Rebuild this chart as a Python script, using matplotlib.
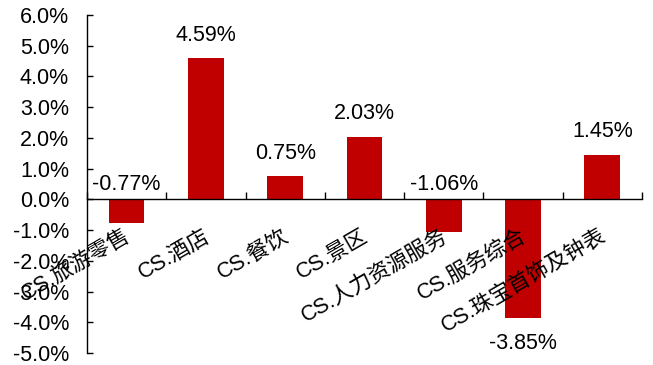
import matplotlib
matplotlib.use("Agg")
import matplotlib.pyplot as plt
from matplotlib.ticker import FuncFormatter, MultipleLocator

plt.rcParams["font.family"] = ["Liberation Sans", "Noto Sans CJK SC", "DejaVu Sans"]

# data
categories = ["CS.旅游零售", "CS.酒店", "CS.餐饮", "CS.景区",
              "CS.人力资源服务", "CS.服务综合", "CS.珠宝首饰及钟表"]
values = [-0.77, 4.59, 0.75, 2.03, -1.06, -3.85, 1.45]
yticks = list(range(-5, 7))

barColor = "#C00000"
fontSize = 15.5

fig = plt.figure(figsize=(6.53, 3.65), dpi=100)
ax = fig.add_axes([0.1332, 0.0329, 0.8498, 0.926])

x = list(range(len(categories)))
ax.bar(x, values, width=0.45, color=barColor, zorder=2)

ax.set_xlim(-0.5, len(categories) - 0.5)
ax.set_ylim(-5, 6)
ax.set_yticks(yticks)
ax.yaxis.set_major_formatter(FuncFormatter(lambda v, p: f"{v:.1f}%"))
ax.tick_params(axis="y", direction="in", length=4, width=1, labelsize=fontSize, pad=13)

# category boundaries as x ticks, sitting on the zero line
ax.set_xticks([i + 0.5 for i in range(-1, len(categories))])
ax.xaxis.set_minor_locator(MultipleLocator(1))
ax.tick_params(axis="x", which="major", direction="in", length=5, width=1,
               labelbottom=False)
ax.tick_params(axis="x", which="minor", length=0)
ax.spines["bottom"].set_position(("data", 0))
ax.spines["top"].set_visible(False)
ax.spines["right"].set_visible(False)
for s in ("left", "bottom"):
    ax.spines[s].set_linewidth(1)

# value labels
for i, v in enumerate(values):
    if v >= 0:
        ax.annotate(f"{v:.2f}%", (i, v), xytext=(0, 9), textcoords="offset points",
                    ha="center", va="bottom", fontsize=fontSize)
    elif v > -2:
        ax.annotate(f"{v:.2f}%", (i, 0), xytext=(0, 3), textcoords="offset points",
                    ha="center", va="bottom", fontsize=fontSize)
    else:
        ax.annotate(f"{v:.2f}%", (i, v), xytext=(0, -11), textcoords="offset points",
                    ha="center", va="top", fontsize=fontSize)

# rotated category labels hanging under the zero line
for i, name in enumerate(categories):
    ax.text(i - 0.04, -0.85, name, rotation=30, ha="right", va="top",
            rotation_mode="anchor", fontsize=fontSize, zorder=3)

fig.savefig("out.png", dpi=100)
